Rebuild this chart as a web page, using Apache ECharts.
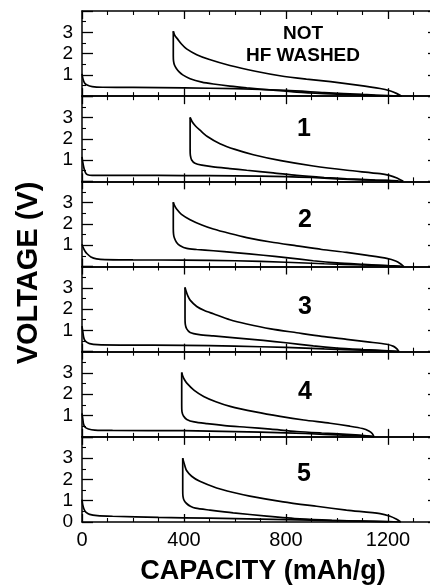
<!DOCTYPE html>
<html>
<head>
<meta charset="utf-8">
<script src="https://cdn.jsdelivr.net/npm/echarts@6/dist/echarts.min.js"></script>
<style>
  html, body { margin: 0; padding: 0; background: #fff; overflow: hidden; }
  /* the plot frame runs a little past the right edge of the page */
  #chart { width: 450px; height: 586px; }
</style>
</head>
<body>
<div id="chart"></div>
<script>
// Voltage (V) vs. capacity (mAh/g): first discharge, charge and second discharge
// for the unwashed material and five HF-washed samples.

const panelLabels = ['NOT\nHF WASHED', '1', '2', '3', '4', '5'];
const capacityTicks = [0, 400, 800, 1200];
const voltageTicks = [0, 1, 2, 3];

// Not HF washed
const notWashedDischarge1 = [[0,1.05],[4,0.8],[10,0.62],[20,0.52],[40,0.45],[80,0.42],[200,0.41],[400,0.39],[600,0.35],[800,0.27],[950,0.17],[1100,0.08],[1200,0.03],[1250,0]];
const notWashedCharge = [[358,3.05],[364,2.85],[375,2.68],[390,2.45],[410,2.22],[450,1.95],[500,1.72],[580,1.44],[680,1.17],[776,0.96],[880,0.8],[975,0.68],[1080,0.52],[1169,0.36],[1210,0.24],[1235,0.12],[1254,0]];
const notWashedDischarge2 = [[358,3.05],[358,1.9],[359,1.65],[363,1.45],[370,1.3],[380,1.15],[395,1.0],[424,0.82],[470,0.66],[515,0.57],[580,0.47],[646,0.39],[750,0.28],[842,0.19],[950,0.12],[1050,0.07],[1150,0.03],[1230,0.01]];

// Sample 1
const sample1Discharge1 = [[0,1.15],[3,0.9],[8,0.6],[14,0.4],[22,0.31],[40,0.28],[200,0.28],[400,0.27],[600,0.26],[800,0.22],[900,0.18],[1000,0.12],[1100,0.07],[1200,0.03],[1255,0]];
const sample1Charge = [[424,3.0],[432,2.8],[445,2.6],[463,2.4],[490,2.12],[541,1.77],[600,1.5],[672,1.25],[780,0.97],[907,0.72],[1040,0.52],[1169,0.36],[1205,0.28],[1235,0.16],[1260,0]];
const sample1Discharge2 = [[424,3.0],[424,1.5],[425,1.22],[430,1.0],[443,0.85],[470,0.76],[515,0.68],[580,0.6],[646,0.52],[750,0.4],[842,0.28],[950,0.18],[1038,0.12],[1150,0.06],[1240,0.02]];

// Sample 2
const sample2Discharge1 = [[0,1.05],[5,0.88],[12,0.72],[20,0.6],[35,0.45],[57,0.36],[90,0.32],[200,0.31],[400,0.3],[600,0.27],[800,0.2],[950,0.13],[1100,0.07],[1200,0.03],[1255,0]];
const sample2Charge = [[358,3.02],[362,2.88],[371,2.7],[390,2.45],[424,2.2],[470,1.95],[515,1.76],[580,1.55],[646,1.36],[740,1.15],[842,0.97],[940,0.8],[1038,0.66],[1120,0.52],[1195,0.38],[1230,0.26],[1250,0.12],[1262,0]];
const sample2Discharge2 = [[358,3.02],[358,1.8],[359,1.52],[362,1.35],[371,1.13],[385,0.98],[411,0.85],[450,0.8],[515,0.74],[600,0.65],[711,0.53],[800,0.42],[907,0.27],[1000,0.17],[1104,0.1],[1200,0.04],[1250,0.01]];

// Sample 3
const sample3Discharge1 = [[0,1.2],[3,0.95],[6,0.7],[10,0.55],[18,0.45],[30,0.38],[60,0.33],[150,0.31],[400,0.3],[600,0.26],[800,0.2],[950,0.13],[1100,0.07],[1200,0.03],[1245,0]];
const sample3Charge = [[404,3.02],[408,2.85],[415,2.62],[424,2.42],[450,2.12],[480,1.93],[515,1.78],[580,1.5],[646,1.3],[740,1.07],[842,0.89],[940,0.72],[1038,0.58],[1120,0.46],[1195,0.35],[1222,0.25],[1236,0.12],[1242,0]];
const sample3Discharge2 = [[404,3.02],[404,1.6],[405,1.29],[410,1.08],[424,0.9],[460,0.8],[515,0.74],[600,0.65],[711,0.53],[800,0.42],[907,0.27],[1000,0.17],[1100,0.1],[1200,0.04],[1240,0.01]];

// Sample 4
const sample4Discharge1 = [[0,1.1],[3,0.85],[6,0.6],[12,0.45],[25,0.37],[50,0.32],[120,0.3],[400,0.29],[600,0.25],[800,0.19],[950,0.12],[1050,0.07],[1120,0.03],[1145,0]];
const sample4Charge = [[391,3.02],[395,2.85],[402,2.68],[411,2.52],[440,2.18],[477,1.9],[525,1.65],[581,1.43],[680,1.17],[777,0.96],[870,0.79],[973,0.64],[1050,0.5],[1100,0.39],[1125,0.28],[1138,0.16],[1145,0]];
const sample4Discharge2 = [[391,3.02],[391,1.5],[392,1.19],[398,0.98],[411,0.82],[440,0.7],[490,0.62],[560,0.53],[646,0.45],[740,0.36],[842,0.25],[940,0.18],[1038,0.12],[1100,0.07],[1140,0.02]];

// Sample 5
const sample5Discharge1 = [[0,1.05],[3,0.8],[8,0.6],[15,0.47],[30,0.36],[60,0.3],[120,0.27],[300,0.22],[500,0.18],[700,0.14],[900,0.09],[1050,0.05],[1200,0.02],[1250,0]];
const sample5Charge = [[395,3.0],[398,2.85],[403,2.65],[410,2.42],[430,2.15],[462,1.91],[528,1.6],[590,1.4],[658,1.22],[789,0.95],[920,0.74],[1037,0.56],[1169,0.39],[1208,0.27],[1232,0.14],[1250,0]];
const sample5Discharge2 = [[395,3.0],[395,1.5],[396,1.21],[401,1.0],[410,0.87],[425,0.74],[445,0.65],[502,0.56],[593,0.43],[724,0.28],[855,0.15],[980,0.08],[1100,0.04],[1200,0.01]];

const panels = [
  [notWashedDischarge1, notWashedCharge, notWashedDischarge2],
  [sample1Discharge1, sample1Charge, sample1Discharge2],
  [sample2Discharge1, sample2Charge, sample2Discharge2],
  [sample3Discharge1, sample3Charge, sample3Discharge2],
  [sample4Discharge1, sample4Charge, sample4Discharge2],
  [sample5Discharge1, sample5Charge, sample5Discharge2]
];

// Layout
const FONT = '"Liberation Sans", Arial, Helvetica, sans-serif';
const PLOT_TOP = 11;
const PANEL_H = 85.17;
const PLOT_LEFT = 82;
const PLOT_W = 357;
const X_MAX = 1400;
const Y_MAX = 4;
const INK = '#000';

const grids = [], xAxes = [], yAxes = [], series = [];
const n = panels.length;

panels.forEach((curves, i) => {
  const last = i === n - 1;
  grids.push({ left: PLOT_LEFT, top: PLOT_TOP + i * PANEL_H, width: PLOT_W, height: PANEL_H });

  const xBase = {
    gridIndex: i, type: 'value', min: 0, max: X_MAX, interval: 400,
    axisLine: { show: true, onZero: false, lineStyle: { color: INK, width: 1.5 } },
    axisTick: { show: true, inside: true, length: 8, lineStyle: { color: INK, width: 1.3 } },
    minorTick: { show: true, splitNumber: 4, length: 4, lineStyle: { color: INK, width: 1.1 } },
    splitLine: { show: false }
  };
  xAxes.push(Object.assign({}, xBase, {
    position: 'bottom',
    axisLabel: {
      show: last, color: INK, fontFamily: FONT, fontSize: 20, margin: 8,
      showMaxLabel: false,
      formatter: v => capacityTicks.includes(v) ? String(v) : ''
    }
  }));
  xAxes.push(Object.assign({}, xBase, { position: 'top', axisLabel: { show: false } }));

  const yBase = {
    gridIndex: i, type: 'value', min: 0, max: Y_MAX, interval: 1,
    axisLine: { show: true, onZero: false, lineStyle: { color: INK, width: 1.5 } },
    axisTick: { show: true, inside: true, length: 11, lineStyle: { color: INK, width: 1.3 } },
    minorTick: { show: true, splitNumber: 2, length: 4, lineStyle: { color: INK, width: 1.1 } },
    splitLine: { show: false }
  };
  yAxes.push(Object.assign({}, yBase, {
    position: 'left',
    axisLabel: {
      show: true, color: INK, fontFamily: FONT, fontSize: 19, margin: 9,
      formatter: v => (voltageTicks.includes(v) && (v !== 0 || last)) ? String(v) : ''
    }
  }));
  yAxes.push(Object.assign({}, yBase, { position: 'right', axisLabel: { show: false } }));

  curves.forEach(data => {
    series.push({
      type: 'line', xAxisIndex: 2 * i, yAxisIndex: 2 * i, data,
      showSymbol: false, smooth: 0.25, silent: true,
      lineStyle: { color: INK, width: 1.7 }
    });
  });
});

// Panel captions
const captionPos = [[303, 45], [304, 129], [305, 220], [305, 307], [305, 392], [304, 474]];
const graphics = panelLabels.map((txt, i) => ({
  type: 'text',
  x: captionPos[i][0], y: captionPos[i][1],
  style: i === 0
    ? { text: txt, fill: INK, font: 'bold 19px ' + FONT, align: 'center', verticalAlign: 'middle', lineHeight: 22 }
    : { text: txt, fill: INK, font: 'bold 25px ' + FONT, align: 'center', verticalAlign: 'middle' }
}));
graphics.push({
  type: 'text', x: 263, y: 572,
  style: { text: 'CAPACITY (mAh/g)', fill: INK, font: 'bold 27px ' + FONT, align: 'center', verticalAlign: 'middle' }
});
graphics.push({
  type: 'text', x: 29, y: 273, rotation: Math.PI / 2,
  style: { text: 'VOLTAGE (V)', fill: INK, font: 'bold 29px ' + FONT, align: 'center', verticalAlign: 'middle' }
});

const chart = echarts.init(document.getElementById('chart'), null, { renderer: 'canvas' });
chart.setOption({
  animation: false,
  backgroundColor: '#fff',
  grid: grids,
  xAxis: xAxes,
  yAxis: yAxes,
  series,
  graphic: graphics
});
</script>
</body>
</html>
